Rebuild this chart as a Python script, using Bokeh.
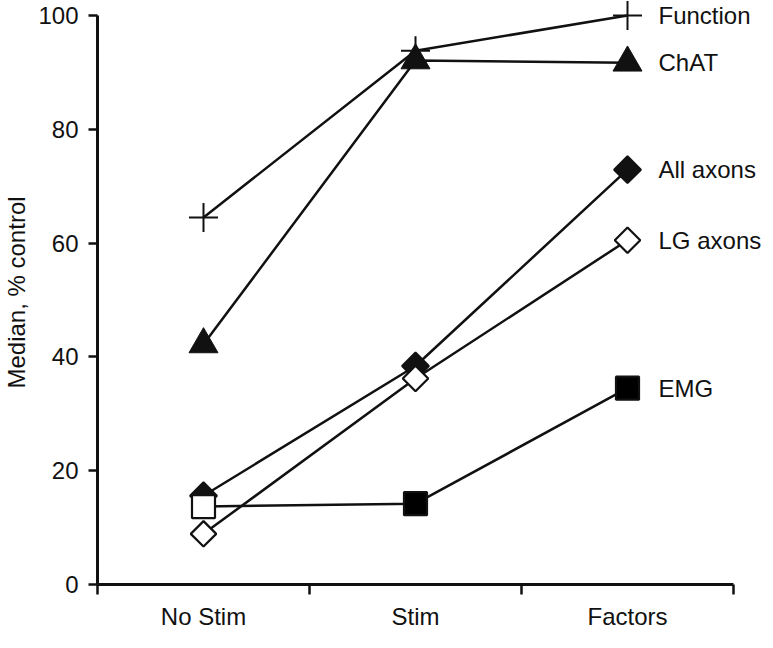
import numpy as np
from bokeh.plotting import figure
from bokeh.models import ColumnDataSource, Range1d, FixedTicker
from bokeh.core.properties import value
from bokeh.embed import file_html
from bokeh.resources import INLINE

# ---- data ----
categories = ["No Stim", "Stim", "Factors"]
x_pos = [1, 2, 3]
function_vals = [64.5, 93.8, 100.0]
chat_vals = [42.2, 92.1, 91.7]
all_axons_vals = [15.6, 38.4, 72.9]
lg_axons_vals = [8.9, 36.2, 60.5]
emg_vals = [13.7, 14.2, 34.5]
emg_fill = ["white", "black", "black"]
series_names = ["Function", "ChAT", "All axons", "LG axons", "EMG"]
y_ticks = [0, 20, 40, 60, 80, 100]
x_bounds_ticks = [0.5, 1.5, 2.5, 3.5]

FONT = "Liberation Sans"
FS = "24px"
INK = "#111111"

W, H = 765, 632
left_b, bottom_b, top_b = 97, 47, 0
frame_w = W - left_b
frame_h = H - bottom_b - top_b
px_per_x = 212.0
x_end = 0.5 + frame_w / px_per_x
top_pad_px = 15
y_scale = (frame_h - top_pad_px) / 100.0
y_end = 100 + top_pad_px / y_scale

p = figure(width=W, height=H, output_backend="svg", toolbar_location=None,
           x_range=Range1d(0.5, x_end), y_range=Range1d(0, y_end),
           min_border_left=left_b, min_border_bottom=bottom_b,
           min_border_top=top_b, min_border_right=0)
p.outline_line_color = None
p.xgrid.visible = False
p.ygrid.visible = False
p.background_fill_color = "white"
p.border_fill_color = "white"

# x axis
xa = p.xaxis[0]
xa.ticker = FixedTicker(ticks=x_pos, minor_ticks=x_bounds_ticks)
xa.major_label_overrides = {x: c for x, c in zip(x_pos, categories)}
xa.bounds = (0.5, 3.5)
xa.major_tick_line_color = None
xa.major_tick_out = 10
xa.major_tick_in = 0
xa.minor_tick_out = 10
xa.minor_tick_in = 0
xa.minor_tick_line_width = 2.5
xa.minor_tick_line_color = INK
xa.axis_line_width = 3
xa.axis_line_color = INK
xa.major_label_standoff = 8
xa.major_label_text_font = FONT
xa.major_label_text_font_size = FS
xa.major_label_text_color = INK

# y axis
ya = p.yaxis[0]
ya.ticker = FixedTicker(ticks=y_ticks)
ya.bounds = (0, 100)
ya.major_tick_out = 9
ya.major_tick_in = 0
ya.major_tick_line_width = 2.5
ya.major_tick_line_color = INK
ya.minor_tick_line_color = None
ya.axis_line_width = 3
ya.axis_line_color = INK
ya.major_label_standoff = 10
ya.major_label_text_font = FONT
ya.major_label_text_font_size = FS
ya.major_label_text_color = INK
ya.axis_label = "Median, % control"
ya.axis_label_text_font = FONT
ya.axis_label_text_font_size = FS
ya.axis_label_text_font_style = "normal"
ya.axis_label_text_color = INK
ya.axis_label_standoff = 5

LW = 2.5

# Function (plus)
p.line(x_pos, function_vals, line_color=INK, line_width=LW)
p.scatter(x_pos, function_vals, marker="cross", size=29, line_color=INK, line_width=2)

# ChAT (triangle)
p.line(x_pos, chat_vals, line_color=INK, line_width=LW)
p.scatter(x_pos, chat_vals, marker="triangle", size=29, fill_color=INK, line_color=INK, line_width=1)

# All axons (filled diamond)
p.line(x_pos, all_axons_vals, line_color=INK, line_width=LW)
p.scatter(x_pos, all_axons_vals, marker="square", angle=np.pi / 4, size=19,
          fill_color=INK, line_color=INK, line_width=2)

# LG axons (open diamond)
p.line(x_pos, lg_axons_vals, line_color=INK, line_width=LW)
p.scatter(x_pos, lg_axons_vals, marker="square", angle=np.pi / 4, size=18,
          fill_color="white", line_color=INK, line_width=2.2)

# EMG (square)
emg_src = ColumnDataSource(dict(x=x_pos, y=emg_vals, fill=emg_fill))
p.line(x_pos, emg_vals, line_color=INK, line_width=LW)
p.scatter("x", "y", source=emg_src, marker="square", size=23,
          fill_color="fill", line_color=INK, line_width=2.2)

# series labels at the last point of each series
last_vals = [function_vals[-1], chat_vals[-1], all_axons_vals[-1], lg_axons_vals[-1], emg_vals[-1]]
lab_src = ColumnDataSource(dict(x=[x_pos[-1]] * len(series_names), y=last_vals, t=series_names))
p.text("x", "y", text="t", source=lab_src, x_offset=31, text_baseline="middle",
       text_align="left", text_font=value(FONT), text_font_size="24px", text_color=INK)

open("out.html", "w").write(file_html(p, INLINE))
